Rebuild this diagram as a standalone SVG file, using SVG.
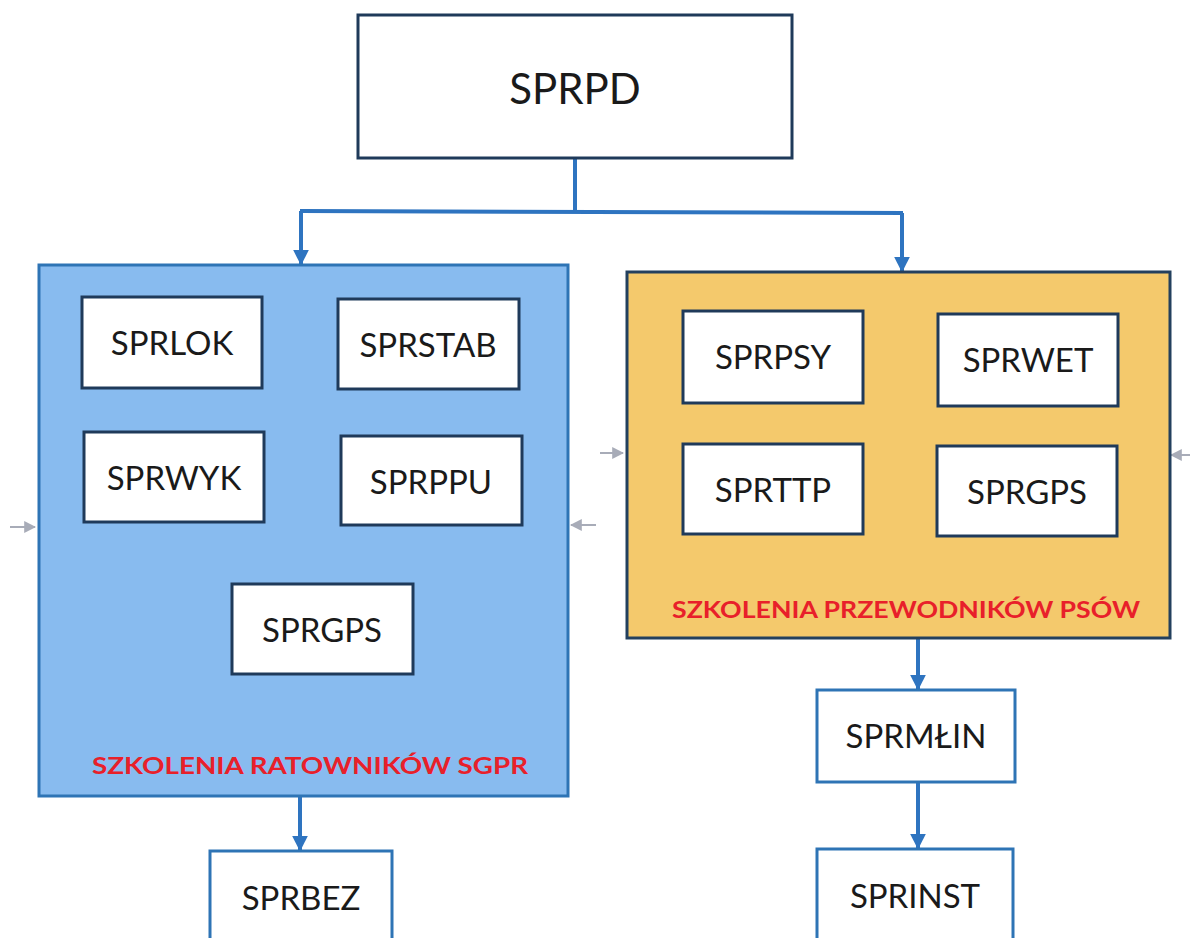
<svg xmlns="http://www.w3.org/2000/svg" width="1190" height="938" viewBox="0 0 1190 938">
<style>
.box{fill:#ffffff;stroke:#1f3a5a;stroke-width:3}
.bbox{fill:#ffffff;stroke:#2e74b5;stroke-width:3}
.t{font-family:Lato,"Open Sans",sans-serif;font-size:33px;fill:#1a1a1a;text-anchor:middle}
.lbl{font-family:Lato,"Open Sans",sans-serif;font-size:23px;font-weight:bold;fill:#e8202a;text-anchor:middle}
.conn{fill:none;stroke:#2e74c0;stroke-width:4}
.gray{fill:none;stroke:#a8acb8;stroke-width:2}
</style>
<defs>
<marker id="arr" viewBox="0 0 10 10" refX="9" refY="5" markerWidth="4" markerHeight="4" orient="auto" markerUnits="strokeWidth">
<path d="M0,0 L10,5 L0,10 z" fill="#2e74c0"/>
</marker>
<marker id="garr" viewBox="0 0 10 10" refX="9" refY="5" markerWidth="6" markerHeight="6" orient="auto" markerUnits="strokeWidth">
<path d="M0,0 L10,5 L0,10 z" fill="#a8acb8"/>
</marker>
</defs>
<rect width="1190" height="938" fill="#ffffff"/>
<g id="connectors">
<path class="conn" d="M575,158 L575,211 M300,211 L903,213"/>
<path class="conn" d="M301,211 L301,264" marker-end="url(#arr)"/>
<path class="conn" d="M902,213 L902,271" marker-end="url(#arr)"/>
<path class="conn" d="M300,796 L300,850" marker-end="url(#arr)"/>
<path class="conn" d="M918,638 L918,689" marker-end="url(#arr)"/>
<path class="conn" d="M918,782 L918,848" marker-end="url(#arr)"/>
<path class="gray" d="M10,527 L35,527" marker-end="url(#garr)"/>
<path class="gray" d="M596,525 L571,525" marker-end="url(#garr)"/>
<path class="gray" d="M600,453 L623,453" marker-end="url(#garr)"/>
<path class="gray" d="M1190,455 L1171,455" marker-end="url(#garr)"/>
</g>
<g id="sprpd">
<rect class="box" x="358" y="15" width="434" height="143"/>
<text class="t" x="575" y="104" style="font-size:42px">SPRPD</text>
</g>
<g id="group-sgpr">
<rect x="39" y="265" width="529" height="531" fill="#88bbef" stroke="#2e74b5" stroke-width="3"/>
<text class="lbl" x="310" y="774" textLength="436" lengthAdjust="spacingAndGlyphs">SZKOLENIA RATOWNIKÓW SGPR</text>
</g>
<g id="sprlok"><rect class="box" x="82" y="297" width="180" height="91"/><text class="t" x="172" y="355">SPRLOK</text></g>
<g id="sprstab"><rect class="box" x="338" y="299" width="181" height="90"/><text class="t" x="428" y="357">SPRSTAB</text></g>
<g id="sprwyk"><rect class="box" x="84" y="432" width="180" height="90"/><text class="t" x="174" y="490">SPRWYK</text></g>
<g id="sprppu"><rect class="box" x="341" y="436" width="181" height="89"/><text class="t" x="431" y="494">SPRPPU</text></g>
<g id="sprgps1"><rect class="box" x="232" y="584" width="181" height="90"/><text class="t" x="322" y="642">SPRGPS</text></g>
<g id="group-psow">
<rect x="627" y="272" width="543" height="366" fill="#f4c96c" stroke="#23405e" stroke-width="3"/>
<text class="lbl" x="906" y="618" textLength="468" lengthAdjust="spacingAndGlyphs">SZKOLENIA PRZEWODNIKÓW PSÓW</text>
</g>
<g id="sprpsy"><rect class="box" x="683" y="311" width="180" height="92"/><text class="t" x="773" y="369">SPRPSY</text></g>
<g id="sprwet"><rect class="box" x="938" y="314" width="180" height="92"/><text class="t" x="1028" y="372">SPRWET</text></g>
<g id="sprttp"><rect class="box" x="683" y="444" width="180" height="90"/><text class="t" x="773" y="502">SPRTTP</text></g>
<g id="sprgps2"><rect class="box" x="937" y="446" width="180" height="90"/><text class="t" x="1027" y="504">SPRGPS</text></g>
<g id="sprbez"><rect class="bbox" x="210" y="851" width="182" height="95"/><text class="t" x="301" y="910">SPRBEZ</text></g>
<g id="sprmlin"><rect class="bbox" x="817" y="690" width="198" height="92"/><text class="t" x="916" y="748">SPRMŁIN</text></g>
<g id="sprinst"><rect class="bbox" x="817" y="849" width="196" height="95"/><text class="t" x="915" y="908">SPRINST</text></g>
</svg>
